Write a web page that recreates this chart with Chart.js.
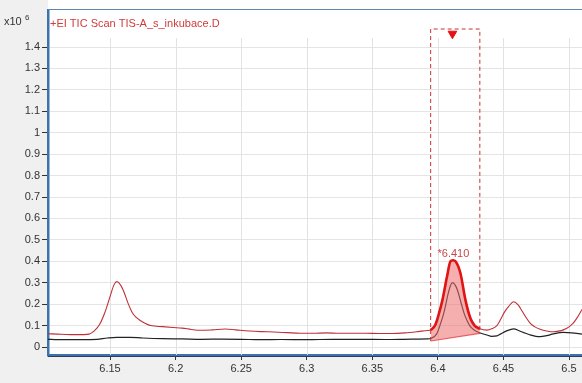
<!DOCTYPE html>
<html>
<head>
<meta charset="utf-8">
<script src="https://cdn.jsdelivr.net/npm/chart.js@4/dist/chart.umd.min.js"></script>
<style>
  html, body { margin: 0; padding: 0; background: #f0f0f0; }
  canvas { display: block; }
</style>
</head>
<body>
<canvas id="tic" width="582" height="383"></canvas>
<script>
// --- TIC chromatogram data (x = retention time, min; y = abundance x10^6) ---

const xTicks = [6.15, 6.2, 6.25, 6.3, 6.35, 6.4, 6.45, 6.5];
const yTicks = [0, 0.1, 0.2, 0.3, 0.4, 0.5, 0.6, 0.7, 0.8, 0.9, 1, 1.1, 1.2, 1.3, 1.4];

// red trace (TIC)
const ticTime = [6.1027, 6.110, 6.120, 6.130, 6.134, 6.138, 6.142, 6.146, 6.150, 6.153, 6.155, 6.157,
  6.160, 6.164, 6.167, 6.170, 6.173, 6.177, 6.181, 6.190, 6.198, 6.205, 6.212, 6.219, 6.228, 6.238,
  6.246, 6.256, 6.265, 6.275, 6.285, 6.295, 6.305, 6.315, 6.325, 6.335, 6.345, 6.355, 6.365, 6.375,
  6.385, 6.392, 6.3945, 6.398, 6.401, 6.4035, 6.407, 6.4096, 6.4115, 6.4134, 6.4172, 6.421, 6.4248,
  6.428, 6.432, 6.4375, 6.441, 6.445, 6.4476, 6.451, 6.454, 6.4578, 6.461, 6.463, 6.467, 6.4705,
  6.474, 6.478, 6.483, 6.488, 6.492, 6.4957, 6.500, 6.503, 6.506, 6.5099];
const ticAbund = [0.062, 0.060, 0.058, 0.058, 0.060, 0.075, 0.105, 0.160, 0.235, 0.290, 0.305, 0.298,
  0.266, 0.200, 0.160, 0.138, 0.124, 0.110, 0.100, 0.095, 0.091, 0.088, 0.082, 0.078, 0.080, 0.084,
  0.080, 0.075, 0.072, 0.070, 0.067, 0.064, 0.064, 0.066, 0.064, 0.064, 0.064, 0.063, 0.063, 0.066,
  0.072, 0.077, 0.079, 0.103, 0.160, 0.220, 0.330, 0.400, 0.405, 0.400, 0.344, 0.220, 0.134,
  0.100, 0.085, 0.079, 0.085, 0.100, 0.126, 0.165, 0.190, 0.211, 0.198, 0.180, 0.140, 0.110,
  0.094, 0.083, 0.075, 0.071, 0.074, 0.080, 0.094, 0.110, 0.135, 0.175];

// black trace
const ionTime = [6.1027, 6.110, 6.130, 6.140, 6.148, 6.155, 6.165, 6.175, 6.190, 6.205, 6.220, 6.235,
  6.250, 6.265, 6.280, 6.300, 6.320, 6.340, 6.360, 6.380, 6.392, 6.3945, 6.399, 6.4021, 6.405, 6.4073,
  6.4095, 6.4111, 6.4128, 6.4149, 6.4175, 6.420, 6.4225, 6.4248, 6.430, 6.4375, 6.441, 6.445, 6.4476,
  6.452, 6.4578, 6.462, 6.4655, 6.470, 6.478, 6.483, 6.488, 6.4957, 6.502, 6.5099];
const ionAbund = [0.036, 0.034, 0.034, 0.036, 0.042, 0.045, 0.045, 0.042, 0.039, 0.038, 0.036, 0.037,
  0.036, 0.034, 0.035, 0.034, 0.036, 0.036, 0.035, 0.037, 0.038, 0.040, 0.060, 0.110, 0.170, 0.235,
  0.285, 0.300, 0.292, 0.266, 0.210, 0.157, 0.120, 0.095, 0.071, 0.056, 0.050, 0.052, 0.060,
  0.074, 0.085, 0.076, 0.067, 0.057, 0.048, 0.053, 0.061, 0.068, 0.066, 0.060];

// integrated peak (thick red) and its baseline
const peakTime = [6.3945, 6.398, 6.401, 6.4035, 6.407, 6.4096, 6.4115, 6.4134, 6.4172, 6.421, 6.4248, 6.428, 6.432];
const peakAbund = [0.079, 0.103, 0.160, 0.220, 0.330, 0.400, 0.405, 0.400, 0.344, 0.220, 0.134, 0.100, 0.085];
const baseTime = [6.3945, 6.432];
const baseAbund = [0.028, 0.064];

// dashed integration window + marker
const winTime = [6.3945, 6.3945, 6.432, 6.432];
const winAbund = [0.028, 1.484, 1.484, 0.064];
const markTime = [6.4111];
const markAbund = [1.462];

const peakLabel = '*6.410';
const peakLabelAt = { x: 6.4111, y: 0.405 };
const traceTitle = '+EI TIC Scan TIS-A_s_inkubace.D';

const pts = (xs, ys) => xs.map((x, i) => ({ x: x, y: ys[i] }));
const FONT = "'Liberation Sans', Arial, sans-serif";

// grid (vertical lines start a bit below the top), frame, texts
const decor = {
  id: 'decor',
  beforeDraw(chart) {
    const { ctx, chartArea: a } = chart;
    ctx.save();
    ctx.fillStyle = '#ffffff';
    ctx.fillRect(a.left, 0, a.right - a.left, a.bottom);
    ctx.restore();
  },
  beforeDatasetsDraw(chart) {
    const { ctx, chartArea: a, scales } = chart;
    ctx.save();
    ctx.strokeStyle = '#e2e2e2';
    ctx.lineWidth = 1;
    xTicks.forEach(v => {
      const px = Math.round(scales.x.getPixelForValue(v)) + 0.5;
      ctx.beginPath();
      ctx.moveTo(px, 38);
      ctx.lineTo(px, a.bottom);
      ctx.stroke();
    });
    ctx.restore();
  },
  afterDraw(chart) {
    const { ctx, chartArea: a, scales } = chart;
    ctx.save();
    // top frame line
    ctx.strokeStyle = '#5f86ad';
    ctx.lineWidth = 1;
    ctx.beginPath();
    ctx.moveTo(a.left, 9.5);
    ctx.lineTo(a.right, 9.5);
    ctx.stroke();
    // dark line under x axis
    ctx.strokeStyle = '#2b3f5a';
    ctx.beginPath();
    ctx.moveTo(a.left, a.bottom + 1.5);
    ctx.lineTo(a.right, a.bottom + 1.5);
    ctx.stroke();

    // title
    ctx.fillStyle = '#d23a3a';
    ctx.font = '11px ' + FONT;
    ctx.textBaseline = 'alphabetic';
    ctx.textAlign = 'left';
    ctx.fillText(traceTitle, 50, 27);

    // x10^6
    ctx.fillStyle = '#333';
    ctx.font = '11px ' + FONT;
    ctx.fillText('x10', 4, 25);
    ctx.font = '8px ' + FONT;
    ctx.fillText('6', 25, 20);

    // peak label
    const px = scales.x.getPixelForValue(peakLabelAt.x);
    const py = scales.y.getPixelForValue(peakLabelAt.y);
    ctx.fillStyle = '#c84848';
    ctx.font = '11px ' + FONT;
    ctx.textAlign = 'center';
    ctx.fillText(peakLabel, px + 1, py - 3);
    ctx.restore();
  }
};

new Chart(document.getElementById('tic'), {
  type: 'line',
  data: {
    datasets: [
      {
        label: 'window',
        data: pts(winTime, winAbund),
        borderColor: '#c83232',
        borderWidth: 1,
        borderDash: [4, 3],
        pointRadius: 0,
        fill: false,
        tension: 0
      },
      {
        label: 'baseline',
        data: pts(baseTime, baseAbund),
        borderColor: 'rgba(225, 40, 40, 0.7)',
        borderWidth: 1.2,
        pointRadius: 0,
        fill: false,
        tension: 0
      },
      {
        label: 'peak',
        data: pts(peakTime, peakAbund),
        borderColor: '#e01414',
        borderWidth: 2.6,
        backgroundColor: 'rgba(238, 110, 110, 0.55)',
        pointRadius: 0,
        fill: { target: 1 },
        cubicInterpolationMode: 'monotone'
      },
      {
        label: 'ion',
        data: pts(ionTime, ionAbund),
        borderColor: '#222222',
        borderWidth: 1.2,
        pointRadius: 0,
        fill: false,
        cubicInterpolationMode: 'monotone'
      },
      {
        label: 'TIC',
        data: pts(ticTime, ticAbund),
        borderColor: '#bf3038',
        borderWidth: 1.1,
        pointRadius: 0,
        fill: false,
        cubicInterpolationMode: 'monotone'
      },
      {
        label: 'marker',
        data: pts(markTime, markAbund),
        showLine: false,
        pointStyle: 'triangle',
        rotation: 180,
        pointRadius: 5,
        pointBackgroundColor: '#e81010',
        pointBorderColor: '#e81010'
      }
    ]
  },
  options: {
    responsive: false,
    animation: false,
    devicePixelRatio: 1,
    layout: { autoPadding: false, padding: { top: 10, right: 0, left: 0, bottom: 0 } },
    plugins: { legend: { display: false }, tooltip: { enabled: false } },
    scales: {
      x: {
        type: 'linear',
        min: 6.1027,
        max: 6.5099,
        afterBuildTicks: s => { s.ticks = xTicks.map(v => ({ value: v })); },
        afterFit: s => { s.height = 28; s.paddingLeft = 0; s.paddingRight = 0; },
        border: { color: '#3d72ad', width: 2.5 },
        grid: { drawOnChartArea: false, tickColor: '#333', tickLength: 5 },
        ticks: {
          color: '#333',
          font: { family: FONT, size: 11 },
          padding: 2,
          maxRotation: 0,
          autoSkip: false,
          callback: v => String(Number(v.toFixed(2)))
        }
      },
      y: {
        min: -0.0373,
        max: 1.5727,
        afterBuildTicks: s => { s.ticks = yTicks.map(v => ({ value: v })); },
        afterFit: s => { s.width = 48; s.paddingTop = 0; s.paddingBottom = 0; },
        border: { color: '#3d72ad', width: 2.5 },
        grid: { color: '#e4e4e4', tickColor: '#333', tickLength: 6 },
        ticks: {
          color: '#333',
          font: { family: FONT, size: 11 },
          padding: 2,
          autoSkip: false,
          callback: v => String(Number(v.toFixed(1)))
        }
      }
    }
  },
  plugins: [decor]
});
</script>
</body>
</html>
